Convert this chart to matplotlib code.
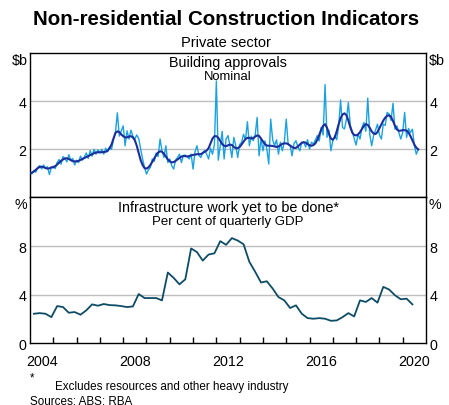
import numpy as np
import matplotlib
matplotlib.use("Agg")
import matplotlib.pyplot as plt

plt.rcParams['font.family'] = ['Liberation Sans', 'DejaVu Sans']

# monthly building approvals, $b, Jan 2004 - Sep 2020
approvals = [
    1.00, 0.98, 1.12, 1.05, 1.25, 1.32, 1.18, 1.35, 1.22, 1.28, 0.95, 1.25,  # 2004
    1.30, 1.20, 1.45, 1.58, 1.38, 1.70, 1.62, 1.48, 1.78, 1.55, 1.62, 1.35,  # 2005
    1.55, 1.45, 1.72, 1.55, 1.68, 1.85, 1.62, 1.95, 1.72, 2.00, 1.80, 1.98,  # 2006
    1.85, 2.00, 1.80, 2.05, 1.90, 2.10, 2.00, 2.40, 2.70, 3.52, 2.55, 2.77,  # 2007
    2.98, 2.15, 2.77, 2.43, 2.80, 2.55, 2.43, 2.60, 2.45, 2.02, 1.60, 1.25,  # 2008
    0.97, 1.15, 1.25, 1.60, 1.50, 1.85, 1.70, 2.43, 1.94, 1.66, 2.15, 1.45,  # 2009
    1.60, 1.32, 1.18, 1.55, 1.66, 1.80, 1.45, 1.75, 1.76, 1.70, 1.60, 1.80,  # 2010
    1.18, 1.90, 2.15, 1.75, 1.66, 1.87, 1.95, 1.80, 1.60, 2.05, 1.80, 2.20,  # 2011
    4.85, 1.55, 2.15, 2.75, 1.60, 2.43, 2.57, 2.15, 1.66, 2.50, 2.15, 1.66,  # 2012
    2.20, 2.29, 2.63, 2.40, 3.15, 2.15, 2.55, 2.36, 2.60, 3.33, 1.73, 2.45,  # 2013
    1.94, 2.35, 2.01, 1.39, 3.26, 2.40, 2.15, 2.40, 1.80, 2.30, 1.94, 2.30,  # 2014
    3.26, 2.20, 2.15, 1.73, 2.25, 2.36, 2.10, 1.94, 2.30, 2.29, 2.10, 2.40,  # 2015
    2.01, 2.30, 2.22, 2.40, 2.57, 2.35, 2.92, 2.60, 4.70, 2.50, 2.80, 1.94,  # 2016
    2.36, 2.57, 2.40, 2.95, 4.06, 2.91, 2.85, 3.25, 3.95, 3.00, 2.75, 2.45,  # 2017
    2.18, 2.64, 2.43, 2.90, 3.12, 2.75, 4.13, 2.64, 2.15, 2.57, 2.80, 3.05,  # 2018
    2.60, 2.43, 3.05, 3.00, 3.54, 3.47, 3.20, 3.92, 2.84, 2.98, 2.70, 2.43,  # 2019
    2.70, 3.54, 2.50, 2.87, 2.70, 2.84, 2.15, 1.80, 2.00,                    # 2020
]

approvals_trend = [
    1.00, 1.03, 1.08, 1.15, 1.22, 1.27, 1.28, 1.26, 1.22, 1.20, 1.21, 1.25,  # 2004
    1.25, 1.30, 1.37, 1.45, 1.52, 1.58, 1.62, 1.63, 1.60, 1.55, 1.51, 1.50,  # 2005
    1.50, 1.52, 1.56, 1.60, 1.64, 1.68, 1.72, 1.76, 1.80, 1.84, 1.87, 1.88,  # 2006
    1.88, 1.88, 1.89, 1.90, 1.95, 2.05, 2.20, 2.45, 2.68, 2.75, 2.72, 2.62,  # 2007
    2.55, 2.50, 2.50, 2.53, 2.55, 2.50, 2.38, 2.15, 1.85, 1.55, 1.35, 1.22,  # 2008
    1.20, 1.25, 1.35, 1.48, 1.62, 1.76, 1.87, 1.92, 1.90, 1.82, 1.70, 1.58,  # 2009
    1.50, 1.46, 1.47, 1.52, 1.58, 1.64, 1.70, 1.72, 1.72, 1.70, 1.72, 1.75,  # 2010
    1.77, 1.78, 1.80, 1.80, 1.80, 1.85, 1.90, 1.95, 2.05, 2.25, 2.45, 2.55,  # 2011
    2.55, 2.48, 2.35, 2.22, 2.15, 2.13, 2.17, 2.20, 2.18, 2.10, 2.05, 2.05,  # 2012
    2.10, 2.20, 2.32, 2.43, 2.48, 2.48, 2.45, 2.47, 2.53, 2.58, 2.56, 2.45,  # 2013
    2.33, 2.22, 2.16, 2.15, 2.15, 2.14, 2.12, 2.10, 2.12, 2.18, 2.23, 2.25,  # 2014
    2.25, 2.22, 2.16, 2.10, 2.06, 2.06, 2.12, 2.20, 2.27, 2.30, 2.28, 2.22,  # 2015
    2.17, 2.15, 2.18, 2.25, 2.40, 2.60, 2.82, 2.98, 3.05, 2.90, 2.65, 2.45,  # 2016
    2.40, 2.50, 2.75, 3.05, 3.30, 3.45, 3.50, 3.42, 3.20, 2.92, 2.70, 2.60,  # 2017
    2.58, 2.62, 2.72, 2.85, 2.98, 3.05, 3.02, 2.90, 2.75, 2.66, 2.64, 2.72,  # 2018
    2.88, 3.05, 3.20, 3.32, 3.40, 3.42, 3.35, 3.18, 2.98, 2.83, 2.77, 2.78,  # 2019
    2.80, 2.80, 2.78, 2.70, 2.55, 2.38, 2.20, 2.07, 2.00,                    # 2020
]

# quarterly infrastructure work yet to be done, % of GDP, Mar 2004 - Jun 2020
work_yet_to_be_done = [
    2.43, 2.48, 2.43, 2.15, 3.06, 2.98, 2.51, 2.57, 2.35, 2.71,
    3.20, 3.09, 3.23, 3.14, 3.12, 3.06, 2.98, 3.03, 4.05, 3.72,
    3.72, 3.72, 3.53, 5.82, 5.38, 4.85, 5.26, 7.80, 7.50, 6.80,
    7.30, 7.40, 8.40, 8.10, 8.65, 8.45, 8.15, 6.70, 5.88, 5.00,
    5.10, 4.50, 3.80, 3.53, 2.90, 3.12, 2.43, 2.07, 2.02, 2.07,
    2.02, 1.85, 1.88, 2.15, 2.48, 2.21, 3.53, 3.40, 3.72, 3.34,
    4.64, 4.42, 3.95, 3.62, 3.67, 3.20,
]

year_labels = ['2004', '2008', '2012', '2016', '2020']

# dates as decimal years
monthly_t = 2004 + np.arange(len(approvals)) / 12.0
quarterly_t = 2004 + 2 / 12.0 + np.arange(len(work_yet_to_be_done)) * 0.25

raw_col = '#1CA2E0'
trend_col = '#1C2E9C'
infra_col = '#0E4C66'
grid_col = '#BEBEBE'
fs = 10.3

fig = plt.figure(figsize=(4.49, 4.06), dpi=100)
ax1 = fig.add_axes([0.0668, 0.5113, 0.882, 0.3550])
ax2 = fig.add_axes([0.0668, 0.152, 0.882, 0.3594])

for ax in (ax1, ax2):
    ax.set_xlim(2004, 2021)
    for s in ax.spines.values():
        s.set_linewidth(1.0)
        s.set_color('black')
    ax.tick_params(axis='y', which='both', length=0, labelleft=True,
                   labelright=True, labelsize=fs, pad=2.5)

# top panel
ax1.set_ylim(0, 6)
ax1.set_yticks([2, 4])
for g in [2, 4]:
    ax1.axhline(g, color=grid_col, lw=1.0, zorder=0)
ax1.plot(monthly_t, approvals, color=raw_col, lw=1.0, zorder=2)
ax1.plot(monthly_t, approvals_trend, color=trend_col, lw=1.5, zorder=3)
ax1.set_xticks([])
ax1.text(0.5, 0.94, 'Building approvals', transform=ax1.transAxes,
         ha='center', va='center', fontsize=10.4)
ax1.text(0.5, 0.845, 'Nominal', transform=ax1.transAxes,
         ha='center', va='center', fontsize=9.4)
ax1.text(-0.006, 1.0, '$b', transform=ax1.transAxes, ha='right', va='top', fontsize=fs)
ax1.text(1.006, 1.0, '$b', transform=ax1.transAxes, ha='left', va='top', fontsize=fs)

# bottom panel
ax2.set_ylim(0, 12)
ax2.set_yticks([0, 4, 8])
for g in [4, 8]:
    ax2.axhline(g, color=grid_col, lw=1.0, zorder=0)
ax2.plot(quarterly_t, work_yet_to_be_done, color=infra_col, lw=1.3, zorder=3)
ax2.set_xticks(np.arange(2005, 2021), minor=False)
ax2.set_xticklabels([])
ax2.set_xticks([int(y) + 0.5 for y in year_labels], minor=True)
ax2.set_xticklabels(year_labels, minor=True)
ax2.tick_params(axis='x', which='major', direction='in', length=4.5, width=1.0)
ax2.tick_params(axis='x', which='minor', length=0, labelsize=fs, pad=8)
ax2.text(0.5, 0.932, 'Infrastructure work yet to be done*', transform=ax2.transAxes,
         ha='center', va='center', fontsize=10.4)
ax2.text(0.5, 0.836, 'Per cent of quarterly GDP', transform=ax2.transAxes,
         ha='center', va='center', fontsize=9.5)
ax2.text(-0.006, 1.0, '%', transform=ax2.transAxes, ha='right', va='top', fontsize=fs)
ax2.text(1.006, 1.0, '%', transform=ax2.transAxes, ha='left', va='top', fontsize=fs)

# titles and notes
fig.text(0.503, 0.951, 'Non-residential Construction Indicators', ha='center',
         va='center', fontsize=14.8, fontweight='bold')
fig.text(0.503, 0.894, 'Private sector', ha='center', va='center', fontsize=10.5)
fig.text(0.066, 0.068, '*', ha='left', va='center', fontsize=8.4)
fig.text(0.122, 0.047, 'Excludes resources and other heavy industry',
         ha='left', va='center', fontsize=8.4)
fig.text(0.066, 0.012, 'Sources: ABS; RBA', ha='left', va='center', fontsize=8.4)

fig.savefig('out.png', dpi=100)
